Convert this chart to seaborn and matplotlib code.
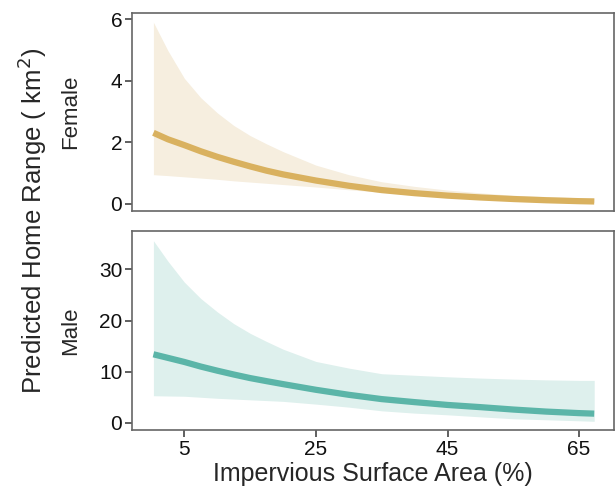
import matplotlib
matplotlib.use("Agg")
import matplotlib.pyplot as plt
import seaborn as sns
import pandas as pd

# ---- data ----
isa = [0.3, 2.5, 5, 7.5, 10, 12.5, 15, 17.5, 20, 25, 30, 35, 40, 45, 50, 55, 60, 65, 67.3]

female_fit = [2.31, 2.10, 1.91, 1.71, 1.53, 1.37, 1.22, 1.08, 0.96, 0.76, 0.59, 0.45, 0.35,
              0.27, 0.21, 0.16, 0.12, 0.09, 0.08]
female_upper = [5.90, 4.98, 4.08, 3.45, 2.96, 2.55, 2.22, 1.95, 1.70, 1.26, 0.95, 0.72, 0.57,
                0.45, 0.36, 0.28, 0.24, 0.20, 0.20]
female_lower = [0.95, 0.92, 0.88, 0.84, 0.80, 0.75, 0.71, 0.67, 0.63, 0.55, 0.46, 0.38, 0.30,
                0.23, 0.17, 0.12, 0.09, 0.06, 0.05]

male_fit = [13.4, 12.7, 11.9, 11.0, 10.2, 9.45, 8.75, 8.15, 7.57, 6.46, 5.48, 4.64, 4.05,
            3.5, 3.07, 2.6, 2.2, 1.9, 1.8]
male_upper = [35.6, 31.6, 27.5, 24.3, 21.7, 19.4, 17.5, 15.9, 14.4, 12.0, 10.7, 9.6, 9.3,
              9.0, 8.75, 8.55, 8.4, 8.3, 8.3]
male_lower = [5.3, 5.25, 5.2, 5.0, 4.8, 4.65, 4.5, 4.35, 4.2, 3.66, 3.07, 2.35, 1.9,
              1.57, 1.17, 0.8, 0.6, 0.4, 0.3]

x_ticks = [5, 25, 45, 65]
female_yticks = [0, 2, 4, 6]
male_yticks = [0, 10, 20, 30]

sns.set_style("ticks")
plt.rcParams['font.family'] = ['Liberation Sans', 'DejaVu Sans']

fig = plt.figure(figsize=(6.15, 4.92), dpi=100)
ax1 = fig.add_axes([0.2146, 0.5711, 0.7837, 0.4024])
ax2 = fig.add_axes([0.2146, 0.1260, 0.7837, 0.4045])

panels = [
    (ax1, female_fit, female_upper, female_lower, "#D9B15F", "#F6EEDF", "Female",
     female_yticks, (-0.23, 6.2)),
    (ax2, male_fit, male_upper, male_lower, "#5BB5A8", "#DEF0ED", "Male",
     male_yticks, (-1.4, 37.5)),
]

for ax, fit, up, lo, lc, fc, name, yt, ylim in panels:
    df = pd.DataFrame({"isa": isa, "fit": fit, "upper": up, "lower": lo})
    ax.fill_between(df["isa"], df["lower"], df["upper"], color=fc, linewidth=0, zorder=1)
    sns.lineplot(data=df, x="isa", y="fit", ax=ax, color=lc, linewidth=4.5,
                 solid_capstyle="butt", zorder=2)
    ax.set_xlim(-2.96, 70.3)
    ax.set_ylim(*ylim)
    ax.set_yticks(yt)
    ax.set_xticks(x_ticks)
    ax.set_xlabel("")
    ax.set_ylabel(name, fontsize=16)
    ax.yaxis.set_label_coords(-0.106, 0.5)
    for sp in ax.spines.values():
        sp.set_visible(True)
        sp.set_color("#666666")
        sp.set_linewidth(1.2)
    ax.tick_params(axis="both", which="major", direction="out", length=5, width=1.2,
                   color="#444444", labelsize=15, labelcolor="#111111", pad=2,
                   bottom=True, left=True, top=False, right=False)

ax1.tick_params(axis="x", bottom=False, labelbottom=False)
ax2.set_xlabel("Impervious Surface Area (%)", fontsize=18, labelpad=2)

fig.text(0.052, 0.551, "Predicted Home Range ( km$^2$)", rotation=90,
         ha="center", va="center", fontsize=18.5)

fig.savefig("out.png", dpi=100)
